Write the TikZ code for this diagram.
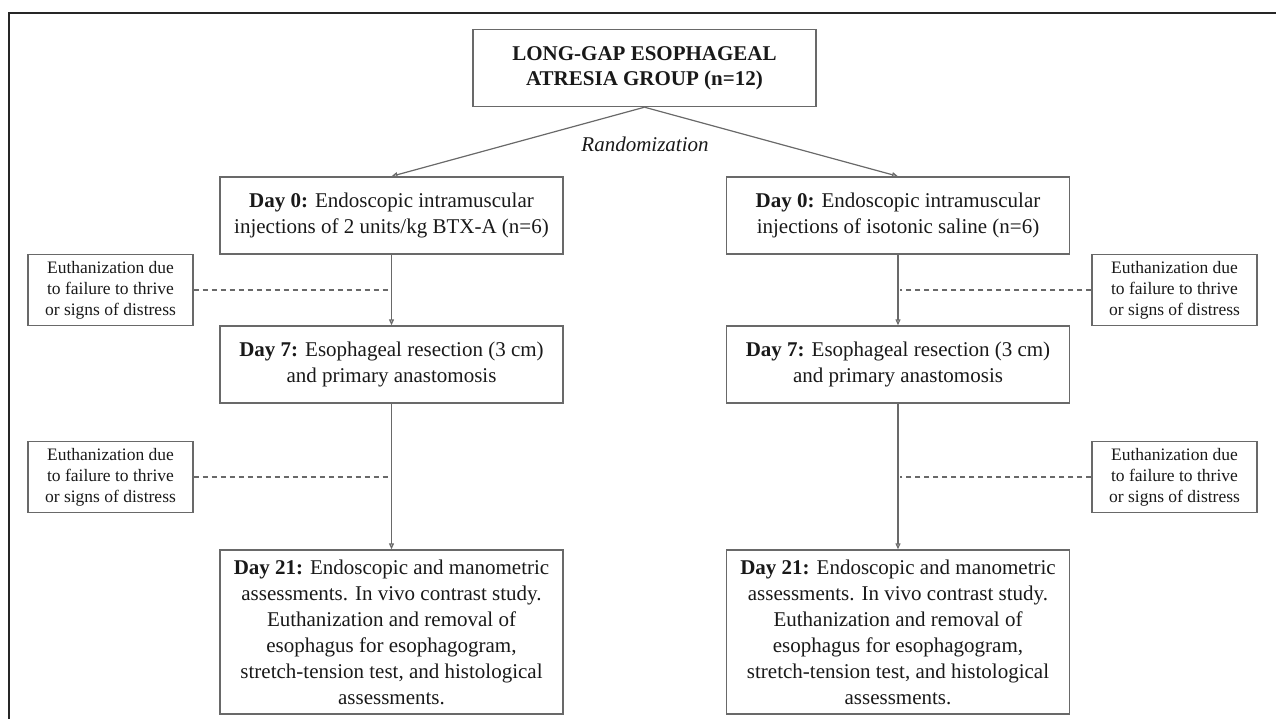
\documentclass[tikz,border=0pt]{standalone}
\usepackage{fontspec}
\setmainfont{Liberation Serif}
\usetikzlibrary{arrows.meta}
\definecolor{linegray}{RGB}{105,105,105}
\definecolor{txt}{RGB}{25,25,25}
\begin{document}
\begin{tikzpicture}[x=1pt,y=-1pt,
  box/.style={draw=linegray, line width=1.4pt, minimum width=343pt, align=center, inner sep=0pt, text=txt, font=\fontsize{21}{26}\selectfont},
  ebox/.style={draw=linegray, line width=1.3pt, minimum width=165pt, minimum height=71pt, align=center, inner sep=0pt, text=txt, font=\fontsize{17.5}{21}\selectfont},
  arr/.style={draw=linegray, line width=1.2pt, -{Triangle[open, length=6pt, width=5pt]}},
  dsh/.style={draw=linegray, line width=1.3pt, dash pattern=on 5pt off 4pt},
  frame/.style={draw=black!85, line width=2.2pt}]
\useasboundingbox (0,0) rectangle (1276,719);
\draw[frame] (1280,13) -- (9,13) -- (9,722);

\node[box, minimum height=77pt, font=\fontsize{21}{25}\selectfont\bfseries] (top) at (644.5,68) {LONG-GAP ESOPHAGEAL\\ATRESIA GROUP (n=12)};
\node[text=txt, font=\fontsize{21}{26}\selectfont\itshape] (rand) at (645,144) {Randomization};

\node[box, minimum height=77pt] (L0) at (391.5,215.5) {\textbf{Day 0:} Endoscopic intramuscular\\injections of 2 units/kg BTX-A (n=6)};
\node[box, minimum height=77pt] (R0) at (898,215.5) {\textbf{Day 0:} Endoscopic intramuscular\\injections of isotonic saline (n=6)};
\node[box, minimum height=77pt] (L7) at (391.5,364.5) {\textbf{Day 7:} Esophageal resection (3 cm)\\and primary anastomosis};
\node[box, minimum height=77pt] (R7) at (898,364.5) {\textbf{Day 7:} Esophageal resection (3 cm)\\and primary anastomosis};
\node[box, minimum height=164pt] (L21) at (391.5,632) {\textbf{Day 21:} Endoscopic and manometric\\assessments. In vivo contrast study.\\Euthanization and removal of\\esophagus for esophagogram,\\stretch-tension test, and histological\\assessments.};
\node[box, minimum height=164pt] (R21) at (898,632) {\textbf{Day 21:} Endoscopic and manometric\\assessments. In vivo contrast study.\\Euthanization and removal of\\esophagus for esophagogram,\\stretch-tension test, and histological\\assessments.};

\node[ebox] (LE1) at (110.5,290) {Euthanization due\\to failure to thrive\\or signs of distress};
\node[ebox] (RE1) at (1174.5,290) {Euthanization due\\to failure to thrive\\or signs of distress};
\node[ebox] (LE2) at (110.5,477) {Euthanization due\\to failure to thrive\\or signs of distress};
\node[ebox] (RE2) at (1174.5,477) {Euthanization due\\to failure to thrive\\or signs of distress};

\draw[arr] (top.south) -- (L0.north);
\draw[arr] (top.south) -- (R0.north);
\draw[arr] (L0.south) -- (L7.north);
\draw[arr] (R0.south) -- (R7.north);
\draw[arr] (L7.south) -- (L21.north);
\draw[arr] (R7.south) -- (R21.north);

\draw[dsh] (LE1.east) -- ([xshift=-2pt]LE1.east -| L0.south);
\draw[dsh] (LE2.east) -- ([xshift=-2pt]LE2.east -| L7.south);
\draw[dsh] (RE1.west) -- ([xshift=2pt]RE1.west -| R0.south);
\draw[dsh] (RE2.west) -- ([xshift=2pt]RE2.west -| R7.south);
\end{tikzpicture}
\end{document}
